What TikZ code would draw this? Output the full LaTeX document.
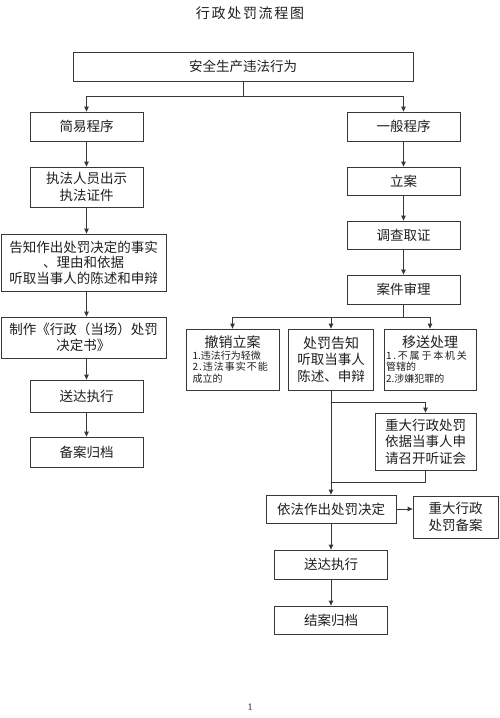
\documentclass[tikz,border=0pt]{standalone}
\usepackage{fontspec}
\setmainfont{Noto Sans CJK SC}
\newfontfamily\serifnum{Liberation Serif}
\usetikzlibrary{arrows.meta,calc}
\definecolor{linec}{gray}{0.22}
\definecolor{txt}{gray}{0.12}
\begin{document}
\begin{tikzpicture}[x=1pt,y=-1pt,
  box/.style={draw=linec, line width=0.8pt, inner sep=0pt, align=center, text=txt,
    font=\fontsize{13.5}{16.5}\selectfont},
  arr/.style={draw=linec, line width=0.8pt, -{Triangle[length=5pt,width=4.5pt]}},
  ln/.style={draw=linec, line width=0.8pt}]
\fill[white] (0,0) rectangle (500,718);
\useasboundingbox (0,0) rectangle (500,718);

\node[text=txt, font=\fontsize{14}{14}\selectfont\addfontfeature{LetterSpace=12}] (title) at (250,13) {行政处罚流程图};

\node[box, minimum width=340pt, minimum height=29pt] (top) at (243,66.5) {安全生产违法行为};

% left column
\node[box, minimum width=113pt, minimum height=29pt] (jianyi) at (86.5,126.5) {简易程序};
\node[box, minimum width=113pt, minimum height=40pt] (zhifa) at (86.5,187) {执法人员出示\\执法证件};
\node[box, minimum width=165pt, minimum height=57pt, font=\fontsize{13.5}{15.5}\selectfont] (gaozhi) at (83.5,262.5) {告知作出处罚决定的事实\\、理由和依据\\听取当事人的陈述和申辩};
\node[box, minimum width=165pt, minimum height=41pt, font=\fontsize{13.5}{16}\selectfont] (zhizuo) at (83.5,337.5) {制作《行政（当场）处罚\\决定书》};
\node[box, minimum width=113pt, minimum height=32pt] (songda1) at (86.5,396) {送达执行};
\node[box, minimum width=113pt, minimum height=30pt] (beian) at (86.5,452) {备案归档};

% right column
\node[box, minimum width=113pt, minimum height=29pt] (yiban) at (403.5,126.5) {一般程序};
\node[box, minimum width=113pt, minimum height=28pt] (lian) at (403.5,181) {立案};
\node[box, minimum width=113pt, minimum height=28pt] (diaocha) at (403.5,235) {调查取证};
\node[box, minimum width=113pt, minimum height=29pt] (shenli) at (403.5,289.5) {案件审理};

\node[box, minimum width=93pt, minimum height=61pt] (chexiao) at (232.5,359.5)
  {\parbox{80pt}{\centering\fontsize{14}{15}\selectfont 撤销立案\par\raggedright\fontsize{10}{11.5}\selectfont 1.违法行为轻微\\{\addfontfeature{LetterSpace=10}2.违法事实不能}\\成立的}};
\node[box, minimum width=85pt, minimum height=61pt] (gaozhi2) at (331,359.5)
  {{\fontsize{14}{16.5}\selectfont 处罚告知}\\听取当事人\\陈述、申辩};
\node[box, minimum width=92pt, minimum height=61pt] (yisong) at (430,359.5)
  {\parbox{88pt}{\centering\fontsize{14}{15}\selectfont 移送处理\par\raggedright\fontsize{10}{11.5}\selectfont {\addfontfeature{LetterSpace=18}1.不属于本机关}\\管辖的\\2.涉嫌犯罪的}};

\node[box, minimum width=101pt, minimum height=57pt] (zhongda) at (425.5,441.5) {重大行政处罚\\依据当事人申\\请召开听证会};
\node[box, minimum width=130pt, minimum height=28pt] (yifa) at (331,509) {依法作出处罚决定};
\node[box, minimum width=85pt, minimum height=42pt] (zdba) at (455.5,517) {重大行政\\处罚备案};
\node[box, minimum width=113pt, minimum height=29pt] (songda2) at (331,564.5) {送达执行};
\node[box, minimum width=113pt, minimum height=28pt] (jiean) at (331,620) {结案归档};

\node[text=txt, font=\serifnum\fontsize{10}{10}\selectfont] (page) at (250,707) {1};

% connectors
\draw[ln] (top.south) -- ++(0,15) coordinate (t1);
\draw[arr] (t1) -| (jianyi.north);
\draw[arr] (t1) -| (yiban.north);

\draw[arr] (jianyi.south) -- (zhifa.north);
\draw[arr] (zhifa.south) -- (zhifa.south |- gaozhi.north);
\draw[arr] (zhifa.south |- gaozhi.south) -- (zhifa.south |- zhizuo.north);
\draw[arr] (zhifa.south |- zhizuo.south) -- (songda1.north);
\draw[arr] (songda1.south) -- (beian.north);

\draw[arr] (yiban.south) -- (lian.north);
\draw[arr] (lian.south) -- (diaocha.north);
\draw[arr] (diaocha.south) -- (shenli.north);

\draw[ln] (shenli.south) -- ++(0,13) coordinate (s1);
\draw[arr] (s1) -| (chexiao.north);
\draw[arr] (s1) -| (yisong.north);
\draw[arr] (gaozhi2.north |- s1) -- (gaozhi2.north);

\draw[arr] (gaozhi2.south) -- (yifa.north);
\draw[arr] ($(gaozhi2.south)+(0,12)$) -| (zhongda.north);
\draw[ln] (zhongda.south) -- ++(0,12) -| ($(yifa.north)+(0,-6)$);

\draw[arr] (yifa.east) -- (yifa.east -| zdba.west);
\draw[arr] (yifa.south) -- (songda2.north);
\draw[arr] (songda2.south) -- (jiean.north);
\end{tikzpicture}
\end{document}
